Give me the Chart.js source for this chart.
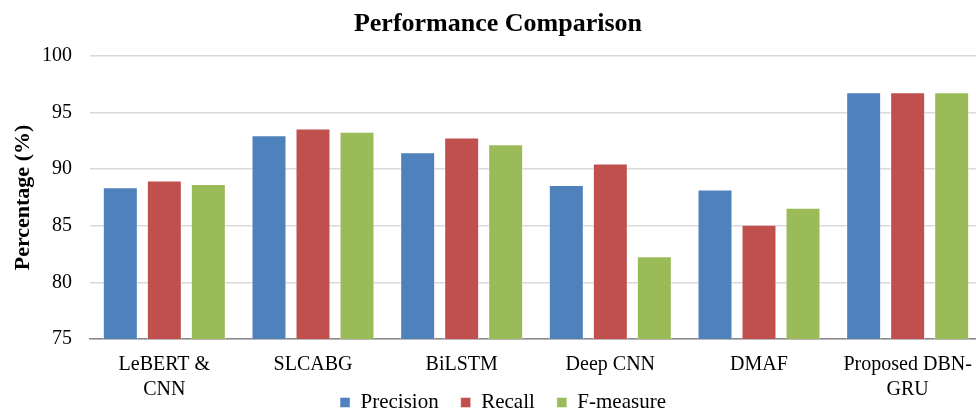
<!DOCTYPE html>
<html>
<head>
<meta charset="utf-8">
<script src="https://cdn.jsdelivr.net/npm/chart.js@4"></script>
<style>
html,body{margin:0;padding:0;overflow:hidden;background:#fff;}
#wrap{position:absolute;left:0;top:0;width:1010px;height:412px;}
</style>
</head>
<body>
<div id="wrap"><canvas id="c" width="1010" height="412"></canvas></div>
<script>
const categories = [["LeBERT &","CNN"], "SLCABG", "BiLSTM", "Deep CNN", "DMAF", ["Proposed DBN-","GRU"]];
const precision = [88.4, 93.0, 91.5, 88.6, 88.2, 96.8];
const recall    = [89.0, 93.6, 92.8, 90.5, 85.1, 96.8];
const fmeasure  = [88.7, 93.3, 92.2, 82.3, 86.6, 96.8];
const yTicks = [75, 80, 85, 90, 95, 100];

const serif = "'Liberation Serif','Times New Roman',serif";
const LEG_PAD = 22;
const legendPlace = {
  id: 'legendPlace',
  afterLayout(chart) {
    const l = chart.legend;
    l.top = 402.5 - LEG_PAD - 10.5;
    l.bottom = l.top + 70;
    l.height = 70;
    l.left += 12; l.right += 12;
    const t = chart.titleBlock;
    t.left += 7; t.right += 7;
  }
};
new Chart(document.getElementById('c'), {
  type: 'bar',
  data: {
    labels: categories,
    datasets: [
      {label:'Precision', data: precision, backgroundColor:'#4F81BD', borderColor:'rgba(255,255,255,0.45)', borderWidth:1},
      {label:'Recall', data: recall, backgroundColor:'#C0504D', borderColor:'rgba(255,255,255,0.45)', borderWidth:1},
      {label:'F-measure', data: fmeasure, backgroundColor:'#9BBB59', borderColor:'rgba(255,255,255,0.45)', borderWidth:1}
    ]
  },
  plugins: [legendPlace],
  options: {
    responsive: false,
    animation: false,
    devicePixelRatio: 1,
    categoryPercentage: 0.888,
    barPercentage: 0.795,
    layout: {padding: {left: 0, right: 28, top: 0, bottom: 10.2}},
    plugins: {
      title: {display:true, text:'Performance Comparison', color:'#000',
        font:{family:serif, size:26, weight:'bold', lineHeight:1.2}, padding:{top:9, bottom:15.8}},
      legend: {position:'bottom', maxHeight: 2, labels:{color:'#000', font:{family:serif, size:21, lineHeight:1.2},
        boxWidth:10, boxHeight:10, padding:LEG_PAD, useBorderRadius:false}},
      tooltip: {enabled:false}
    },
    scales: {
      x: {
        grid: {display:false, drawTicks:false},
        border: {display:true, color:'#888', width:1.5},
        ticks: {color:'#000', font:{family:serif, size:20, lineHeight:1.22}, maxRotation:0, autoSkip:false, padding:14},
        afterFit: (s) => { s.height = 60.8; }
      },
      y: {
        min: 75, max: 100,
        afterBuildTicks: (s) => { s.ticks = yTicks.map(v => ({value: v})); },
        grid: {color:'#d9d9d9', lineWidth:1.5, drawTicks:false},
        border: {display:false},
        ticks: {color:'#000', font:{family:serif, size:20}, padding:18},
        title: {display:true, text:'Percentage (%)', color:'#000', font:{family:serif, size:22, weight:'bold', lineHeight:1.2}, padding:{top:10, bottom:6}},
        afterFit: (s) => { s.width = 90; }
      }
    }
  }
});
</script>
</body>
</html>
